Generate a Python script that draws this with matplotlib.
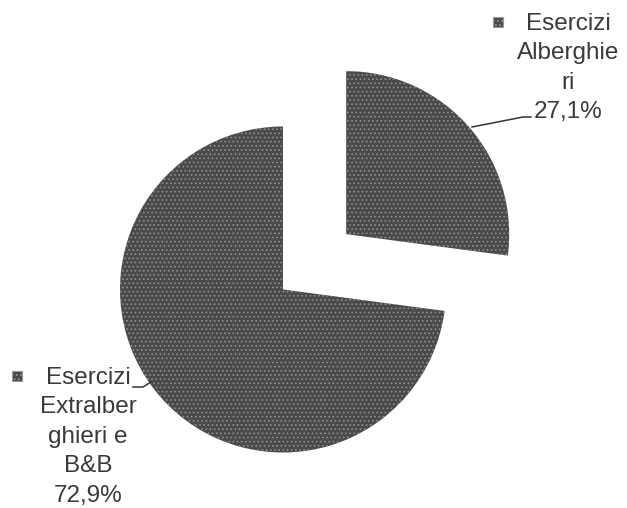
import matplotlib.pyplot as plt
import matplotlib as mpl

# --- data ---
categories = ["Esercizi\nAlberghie\nri", "Esercizi\nExtralber\nghieri e\nB&B"]
shares = [27.1, 72.9]

W, H = 627, 508


def main():
    mpl.rcParams['font.family'] = ['Liberation Sans', 'DejaVu Sans']
    mpl.rcParams['hatch.linewidth'] = 0.7

    fig = plt.figure(figsize=(W / 100, H / 100), dpi=100)
    ax = fig.add_axes([0, 0, 1, 1])

    fill = '#4a4a4a'
    speckle = '#909090'

    # pie: centre of the big slice, small slice pulled out to the upper right
    radius = 163
    wedges, _ = ax.pie(shares, startangle=90, counterclock=False,
                       radius=radius, center=(283, H - 289.5),
                       explode=[84, 0], colors=[fill, fill],
                       wedgeprops=dict(edgecolor=speckle, linewidth=0, hatch='....'))

    ax.set_xlim(0, W)
    ax.set_ylim(0, H)
    ax.set_aspect('equal')
    ax.axis('off')

    # --- labels (category + percent) ---
    def pct(v):
        return f"{v:.1f}%".replace('.', ',')

    label_pos = [(568, H - 13), (88, H - 367)]
    marker_pos = [(498, H - 22), (17, H - 376)]
    for name, val, (tx, ty), (mx, my) in zip(categories, shares, label_pos, marker_pos):
        ax.text(tx, ty, name + "\n" + pct(val), ha='center', va='top',
                fontsize=17.5, color='#3a3a3a', linespacing=1.44)
        ax.scatter([mx], [my], marker='s', s=55, color=fill,
                   edgecolors='#9a9a9a', linewidths=0.8, hatch='....', zorder=3)

    # leader lines
    ax.plot([472, 523, 531], [H - 127, H - 117, H - 117], color='#333333', lw=1.1)
    ax.plot([133, 143, 151], [H - 387, H - 387, H - 382], color='#333333', lw=1.1)

    plt.savefig("out.png", dpi=100)


if __name__ == "__main__":
    main()
